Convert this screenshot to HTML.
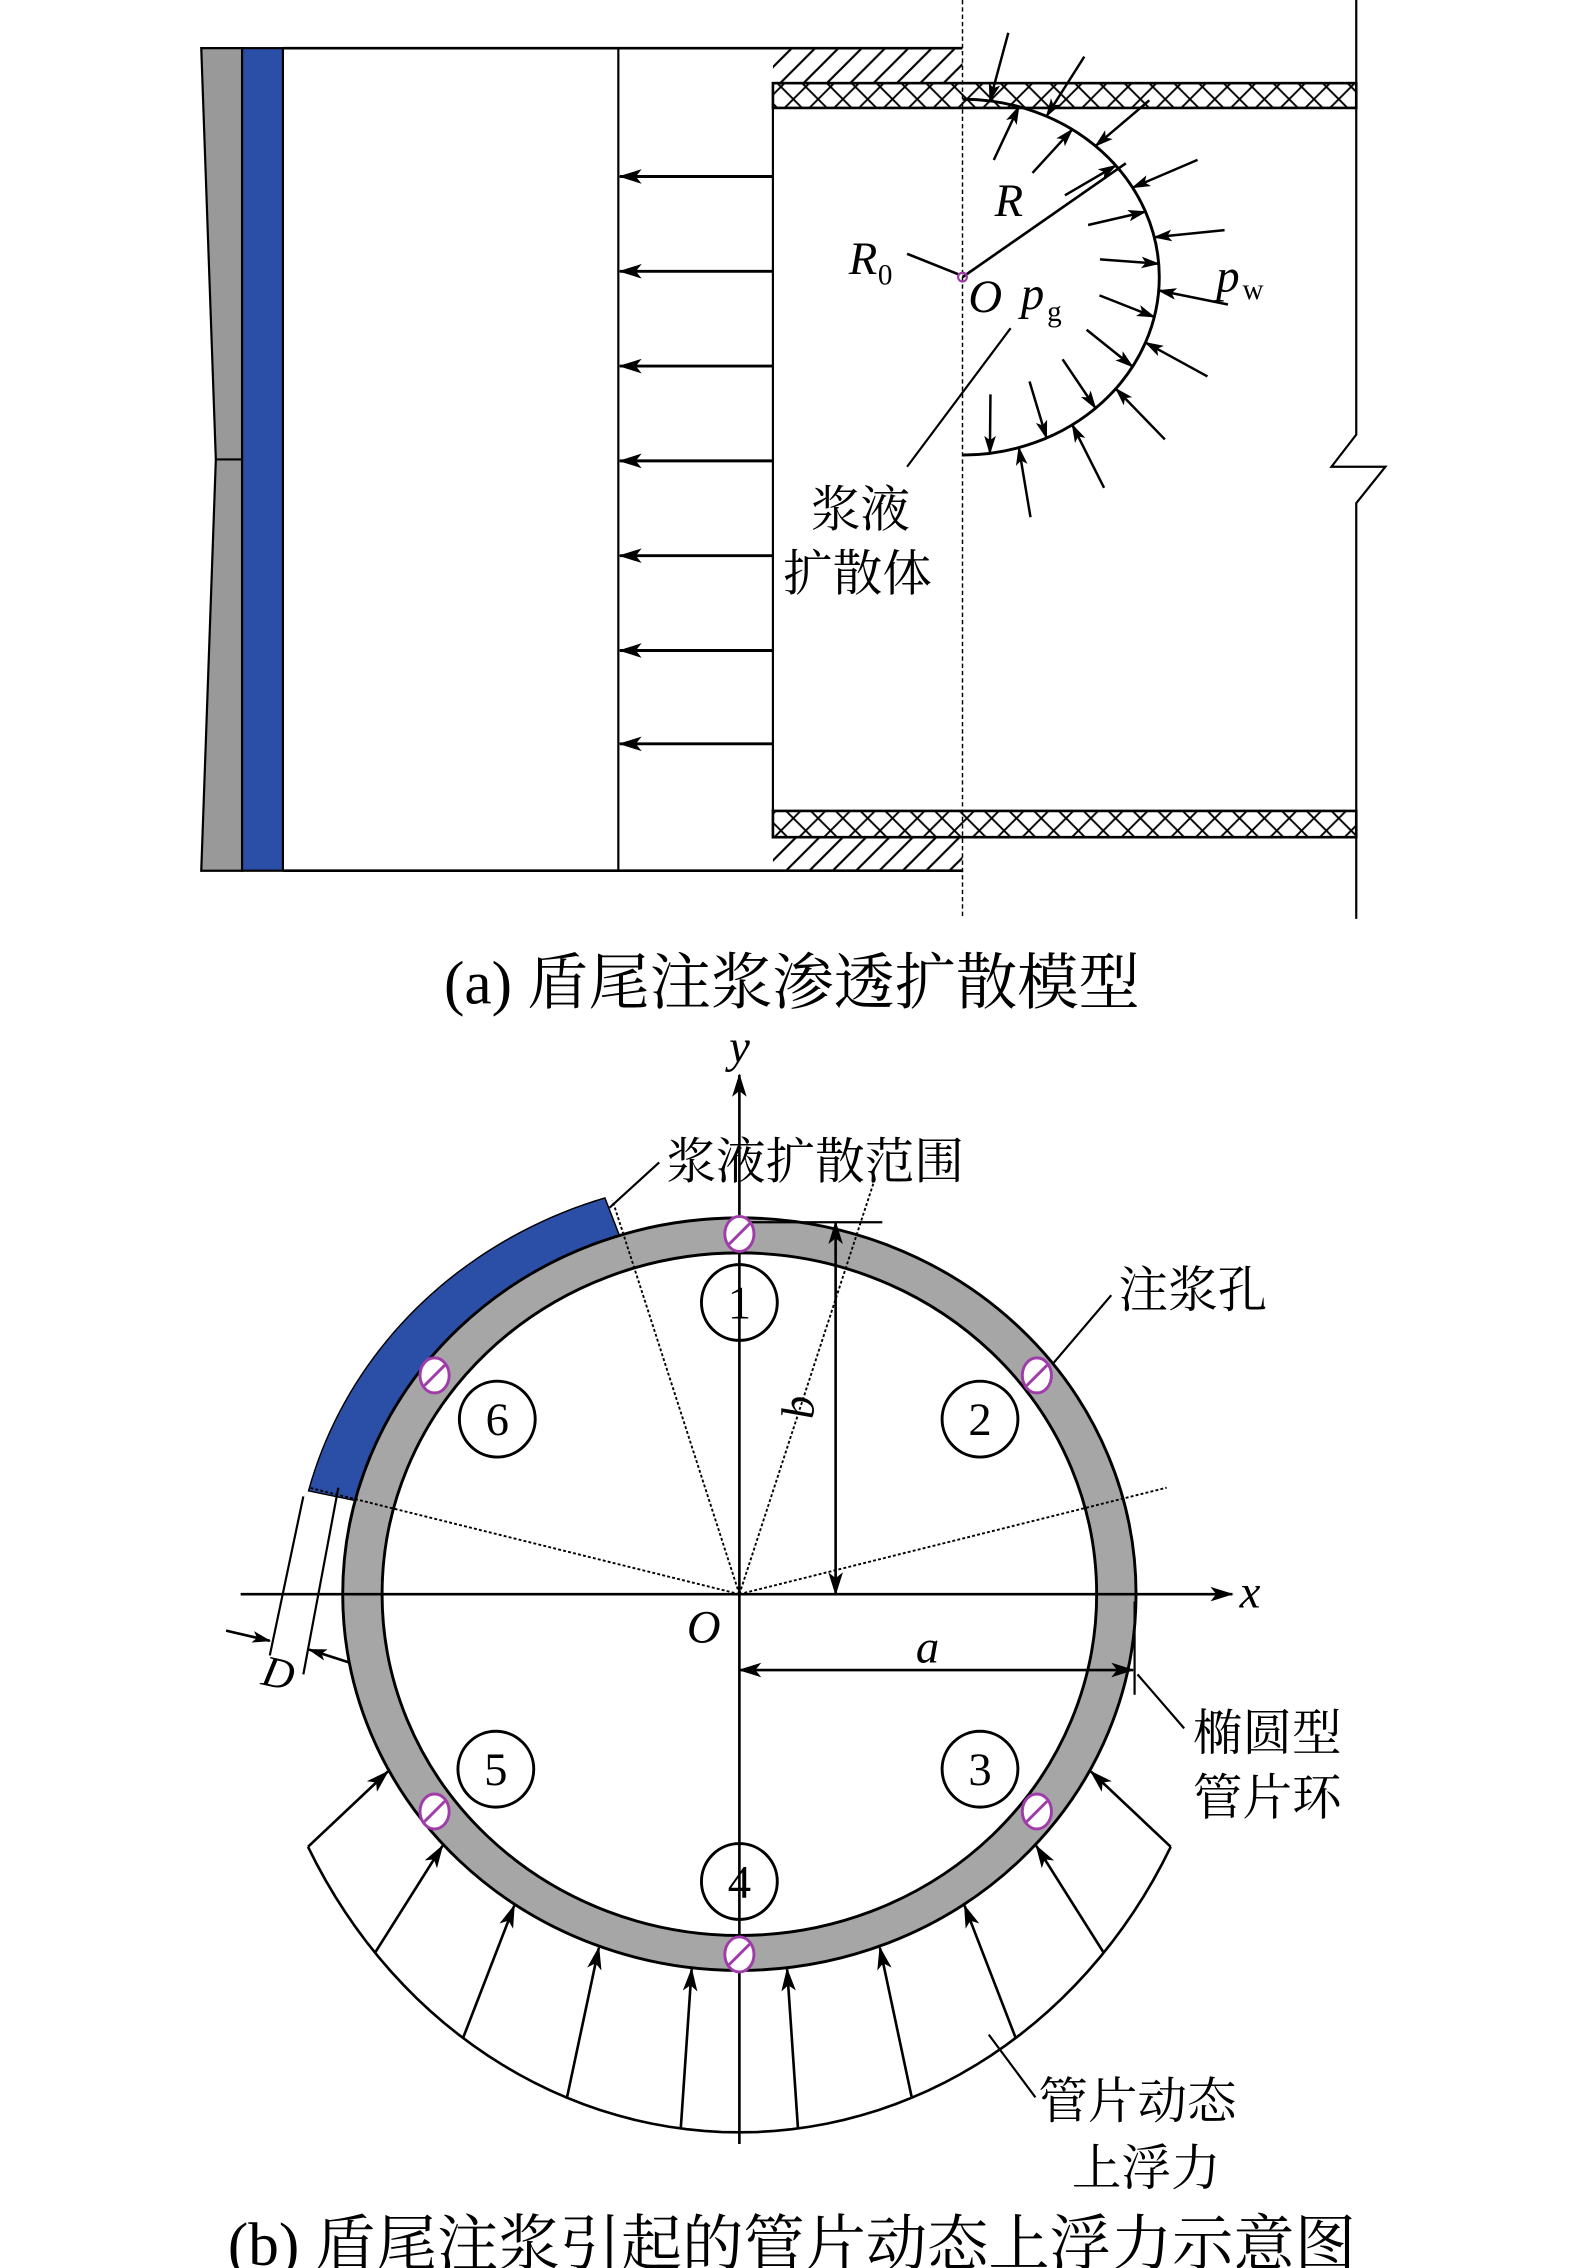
<!DOCTYPE html>
<html><head><meta charset="utf-8"><style>
html,body{margin:0;padding:0;background:#fff;}
svg{display:block;}
.cn{font-family:"Liberation Serif","Noto Serif CJK SC",serif;}
.it{font-family:"Liberation Serif",serif;font-style:italic;}
</style></head><body>
<svg id="s" width="1575" height="2268" viewBox="0 0 1080 1555" preserveAspectRatio="none" xmlns="http://www.w3.org/2000/svg">
<defs>
<marker id="ah" markerWidth="16" markerHeight="10" refX="15" refY="5" orient="auto-start-reverse" markerUnits="userSpaceOnUse"><path d="M0,0 L16,5 L0,10 L4,5 z" fill="#000"/></marker>
<marker id="as" markerWidth="13" markerHeight="8" refX="12" refY="4" orient="auto" markerUnits="userSpaceOnUse"><path d="M0,0 L13,4 L0,8 L3,4 z" fill="#000"/></marker>
<pattern id="diag" patternUnits="userSpaceOnUse" width="16" height="16"><path d="M-4,20 L20,-4 M-4,4 L4,-4 M12,20 L20,12" stroke="#000" stroke-width="1.5"/></pattern>
<pattern id="cross" patternUnits="userSpaceOnUse" width="17" height="17"><path d="M0,0 L17,17 M17,0 L0,17" stroke="#000" stroke-width="1.3"/></pattern>
</defs>
<!-- (a) -->
<polygon points="138,33 166,33 166,597 138,597 148,315" fill="#999" stroke="#000" stroke-width="1.5"/>
<line x1="148" y1="315" x2="166" y2="315" stroke="#000" stroke-width="1.5"/>
<rect x="166" y="33" width="28" height="564" fill="#2b4ea6" stroke="#000" stroke-width="1.5"/>
<line x1="194" y1="33" x2="660" y2="33" stroke="#000" stroke-width="1.8"/>
<line x1="194" y1="597" x2="660" y2="597" stroke="#000" stroke-width="1.8"/>
<line x1="424" y1="33" x2="424" y2="597" stroke="#000" stroke-width="1.5"/>
<rect x="530" y="33" width="130" height="24" fill="url(#diag)"/>
<rect x="530" y="574" width="130" height="23" fill="url(#diag)"/>
<rect x="530" y="57" width="400" height="17" fill="url(#cross)" stroke="#000" stroke-width="1.8"/>
<rect x="530" y="556" width="400" height="18" fill="url(#cross)" stroke="#000" stroke-width="1.8"/>
<line x1="530" y1="74" x2="530" y2="556" stroke="#000" stroke-width="1.5"/>
<line x1="660" y1="0" x2="660" y2="630" stroke="#000" stroke-width="1" stroke-dasharray="3,2"/>
<polyline points="930,0 930,298 913,320 950,320 930,345 930,630" fill="none" stroke="#000" stroke-width="1.5"/>
<g id="harr" stroke="#000" stroke-width="2"></g>
<path d="M660,68 A135,122 0 0 1 660,312" fill="none" stroke="#000" stroke-width="2"/>
<g id="rarr" stroke="#000" stroke-width="1.7"></g>
<line x1="660" y1="190" x2="772" y2="112" stroke="#000" stroke-width="1.8"/>
<line x1="622" y1="174" x2="657" y2="188" stroke="#000" stroke-width="1.8"/>
<circle cx="660" cy="190" r="3" fill="none" stroke="#a03caa" stroke-width="1.5"/>
<line x1="693" y1="225" x2="622" y2="320" stroke="#000" stroke-width="1.5"/>
<text x="682" y="148" class="it" font-size="32">R</text>
<text x="582" y="188" class="it" font-size="32">R</text><text x="602" y="195" font-family="Liberation Serif" font-size="20">0</text>
<text x="664" y="214" class="it" font-size="32">O</text>
<text x="700" y="212" class="it" font-size="32">p</text><text x="718" y="220" font-family="Liberation Serif" font-size="20">g</text>
<text x="834" y="200" class="it" font-size="32">p</text><text x="852" y="205" font-family="Liberation Serif" font-size="20">w</text>
<text x="556" y="361" class="cn" font-size="34">浆液</text>
<text x="537" y="405" class="cn" font-size="34">扩散体</text>
<text x="543" y="688" class="cn" font-size="42" text-anchor="middle">(a) 盾尾注浆渗透扩散模型</text>

<!-- (b) -->
<g id="force" stroke="#000" stroke-width="1.8" fill="none"></g>
<path id="blue" fill="#2b4ea6" stroke="#000" stroke-width="1"/>
<path fill-rule="evenodd" fill="#a6a6a6" stroke="#000" stroke-width="2" d="M235,1093 A272,258 0 1 1 779,1093 A272,258 0 1 1 235,1093 Z M262,1093 A245,234 0 1 0 752,1093 A245,234 0 1 0 262,1093 Z"/>
<g stroke="#000" stroke-width="1.3" stroke-dasharray="2,1.5">
<line x1="507" y1="1093" x2="420" y2="823"/>
<line x1="507" y1="1093" x2="212" y2="1020"/>
<line x1="507" y1="1093" x2="600" y2="808"/>
<line x1="507" y1="1093" x2="800" y2="1020"/>
</g>
<line x1="165" y1="1093" x2="845" y2="1093" stroke="#000" stroke-width="1.8" marker-end="url(#ah)"/>
<line x1="507" y1="1470" x2="507" y2="737" stroke="#000" stroke-width="1.8" marker-end="url(#ah)"/>
<text x="500" y="728" class="it" font-size="32">y</text>
<text x="850" y="1102" class="it" font-size="32">x</text>
<text x="471" y="1126" class="it" font-size="32">O</text>
<line x1="507" y1="838" x2="605" y2="838" stroke="#000" stroke-width="1.5"/>
<line x1="573" y1="838" x2="573" y2="1093" stroke="#000" stroke-width="1.8" marker-start="url(#ah)" marker-end="url(#ah)"/>
<text x="550" y="965" class="it" font-size="32" transform="rotate(-90 558 965)">b</text>
<line x1="507" y1="1145" x2="777" y2="1145" stroke="#000" stroke-width="1.8" marker-start="url(#ah)" marker-end="url(#ah)"/>
<text x="628" y="1140" class="it" font-size="32">a</text>
<line x1="778" y1="1098" x2="778" y2="1162" stroke="#000" stroke-width="1.5"/>
<polyline points="780,1148 812,1185" fill="none" stroke="#000" stroke-width="1.5"/>
<text x="818" y="1200" class="cn" font-size="34">椭圆型</text>
<text x="818" y="1244" class="cn" font-size="34">管片环</text>
<line x1="208" y1="1026" x2="185" y2="1135" stroke="#000" stroke-width="1.5"/>
<line x1="232" y1="1020" x2="208" y2="1148" stroke="#000" stroke-width="1.5"/>
<line x1="155" y1="1118" x2="185" y2="1125" stroke="#000" stroke-width="1.8" marker-end="url(#as)"/>
<line x1="240" y1="1140" x2="212" y2="1131" stroke="#000" stroke-width="1.8" marker-end="url(#as)"/>
<text x="180" y="1158" class="it" font-size="30" transform="rotate(12 195 1148)">D</text>
<g id="nums" font-family="Liberation Serif" font-size="32" text-anchor="middle"></g>
<g id="holes"></g>
<line x1="722" y1="935" x2="762" y2="888" stroke="#000" stroke-width="1.5"/>
<text x="767" y="896" class="cn" font-size="34">注浆孔</text>
<line x1="418" y1="828" x2="452" y2="797" stroke="#000" stroke-width="1.5"/>
<text x="457" y="808" class="cn" font-size="34">浆液扩散范围</text>
<line x1="678" y1="1395" x2="710" y2="1438" stroke="#000" stroke-width="1.5"/>
<text x="712" y="1452" class="cn" font-size="34">管片动态</text>
<text x="735" y="1498" class="cn" font-size="34">上浮力</text>
<text x="543" y="1553" class="cn" font-size="42" text-anchor="middle">(b) 盾尾注浆引起的管片动态上浮力示意图</text>
</svg>
<script>
var NS="http://www.w3.org/2000/svg";
function el(p,t,a){var e=document.createElementNS(NS,t);for(var k in a)e.setAttribute(k,a[k]);p.appendChild(e);return e;}
var h=document.getElementById('harr');
[121,186,251,316,381,446,510].forEach(function(y){el(h,'line',{x1:530,y1:y,x2:425,y2:y,'marker-end':'url(#ah)'});});
var r=document.getElementById('rarr');
var cx=660,cy=190,rx=135,ry=122;
for(var i=0;i<20;i++){
 var t=(82-i*164/19)*Math.PI/180;
 var px=cx+rx*Math.cos(t),py=cy-ry*Math.sin(t);
 var nx=Math.cos(t),ny=-Math.sin(t);
 var ox=(i%2==0)?1:-1;
 var L=ox>0?48:40;
 var sx=px+nx*L*ox+(i%2?-6:6)*(-ny),sy=py+ny*L*ox+(i%2?-6:6)*nx;
 el(r,'line',{x1:sx,y1:sy,x2:px,y2:py,'marker-end':'url(#as)'});
}
var O=[507,1093];
function ep(a,b,t){return [O[0]+a*Math.cos(t),O[1]-b*Math.sin(t)];}
var d="",t1=107.6*Math.PI/180,t2=165.6*Math.PI/180,N=40;
for(var i=0;i<=N;i++){var t=t1+(t2-t1)*i/N,p=ep(305,285,t);d+=(i?"L":"M")+p[0]+","+p[1];}
for(var i=N;i>=0;i--){var t=t1+(t2-t1)*i/N,p=ep(272,258,t);d+="L"+p[0]+","+p[1];}
document.getElementById('blue').setAttribute('d',d+"Z");
var f=document.getElementById('force');
var ta=208*Math.PI/180,tb=332*Math.PI/180;
d="";for(var i=0;i<=60;i++){var t=ta+(tb-ta)*i/60,p=ep(335,369,t);d+=(i?"L":"M")+p[0]+","+p[1];}
el(f,'path',{d:d});
for(var i=0;i<10;i++){var t=ta+(tb-ta)*i/9,p=ep(335,369,t),q=ep(273,259,t);
 el(f,'line',{x1:p[0],y1:p[1],x2:q[0],y2:q[1],'marker-end':'url(#ah)'});}
var g=document.getElementById('nums');
[[1,507,893],[2,672,973],[6,341,973],[3,672,1213],[5,340,1213],[4,507,1290]].forEach(function(n){
 el(g,'circle',{cx:n[1],cy:n[2],r:26,fill:'none',stroke:'#000','stroke-width':2});
 var tx=el(g,'text',{x:n[1],y:n[2]+11});tx.textContent=n[0];});
var hg=document.getElementById('holes');
[[507,846],[711,943],[298,943],[711,1242],[298,1242],[507,1340]].forEach(function(c){
 el(hg,'ellipse',{cx:c[0],cy:c[1],rx:10,ry:12,fill:'#fff',stroke:'#a03caa','stroke-width':2});
 el(hg,'line',{x1:c[0]-7,y1:c[1]+7,x2:c[0]+7,y2:c[1]-7,stroke:'#a03caa','stroke-width':2});});
</script>
</body></html>
